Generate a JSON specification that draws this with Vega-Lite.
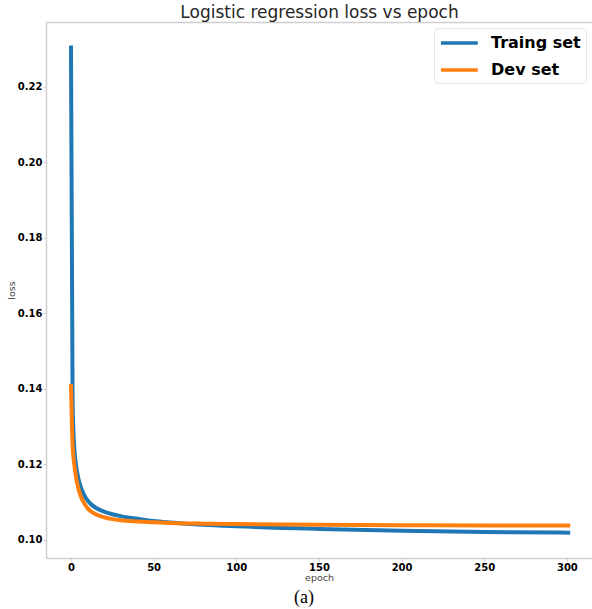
{
  "$schema": "https://vega.github.io/schema/vega-lite/v6.json",
  "autosize": {"type": "none"},
  "padding": {"left": 46, "top": 22, "right": 0, "bottom": 51},
  "width": 546,
  "height": 536,
  "background": "white",
  "title": {
    "text": "(a)",
    "orient": "bottom",
    "anchor": "middle",
    "font": "Liberation Serif",
    "fontSize": 18,
    "fontWeight": "normal",
    "color": "#000000",
    "offset": 7,
    "dx": -15
  },
  "config": {
    "view": {"stroke": null},
    "axis": {
      "grid": false,
      "domainColor": "#cfcfcf",
      "domainWidth": 1.5,
      "tickColor": "#cfcfcf",
      "tickSize": 3,
      "labelFont": "DejaVu Sans",
      "labelFontSize": 10,
      "labelFontWeight": "bold",
      "labelColor": "#000000",
      "titleFont": "DejaVu Sans",
      "titleFontSize": 9.5,
      "titleFontWeight": "normal",
      "titleColor": "#444444"
    }
  },
  "data": {
    "values": [
      {"epoch": 0, "loss": 0.231, "set": "Traing set"},
      {"epoch": 1, "loss": 0.136, "set": "Traing set"},
      {"epoch": 2, "loss": 0.1245, "set": "Traing set"},
      {"epoch": 3, "loss": 0.12, "set": "Traing set"},
      {"epoch": 4, "loss": 0.1172, "set": "Traing set"},
      {"epoch": 5, "loss": 0.1153, "set": "Traing set"},
      {"epoch": 6, "loss": 0.1139, "set": "Traing set"},
      {"epoch": 7, "loss": 0.1128, "set": "Traing set"},
      {"epoch": 8, "loss": 0.1119, "set": "Traing set"},
      {"epoch": 9, "loss": 0.1111, "set": "Traing set"},
      {"epoch": 10, "loss": 0.1105, "set": "Traing set"},
      {"epoch": 12, "loss": 0.1095, "set": "Traing set"},
      {"epoch": 15, "loss": 0.1085, "set": "Traing set"},
      {"epoch": 20, "loss": 0.1075, "set": "Traing set"},
      {"epoch": 25, "loss": 0.1068, "set": "Traing set"},
      {"epoch": 30, "loss": 0.1063, "set": "Traing set"},
      {"epoch": 40, "loss": 0.1056, "set": "Traing set"},
      {"epoch": 50, "loss": 0.105, "set": "Traing set"},
      {"epoch": 60, "loss": 0.1046, "set": "Traing set"},
      {"epoch": 80, "loss": 0.104, "set": "Traing set"},
      {"epoch": 100, "loss": 0.1036, "set": "Traing set"},
      {"epoch": 150, "loss": 0.1029, "set": "Traing set"},
      {"epoch": 200, "loss": 0.1024, "set": "Traing set"},
      {"epoch": 250, "loss": 0.1021, "set": "Traing set"},
      {"epoch": 302, "loss": 0.1019, "set": "Traing set"},
      {"epoch": 0, "loss": 0.1413, "set": "Dev set"},
      {"epoch": 1, "loss": 0.125, "set": "Dev set"},
      {"epoch": 2, "loss": 0.12, "set": "Dev set"},
      {"epoch": 3, "loss": 0.1168, "set": "Dev set"},
      {"epoch": 4, "loss": 0.1145, "set": "Dev set"},
      {"epoch": 5, "loss": 0.1128, "set": "Dev set"},
      {"epoch": 6, "loss": 0.1115, "set": "Dev set"},
      {"epoch": 7, "loss": 0.1105, "set": "Dev set"},
      {"epoch": 8, "loss": 0.1097, "set": "Dev set"},
      {"epoch": 9, "loss": 0.109, "set": "Dev set"},
      {"epoch": 10, "loss": 0.1084, "set": "Dev set"},
      {"epoch": 12, "loss": 0.1076, "set": "Dev set"},
      {"epoch": 15, "loss": 0.1068, "set": "Dev set"},
      {"epoch": 20, "loss": 0.106, "set": "Dev set"},
      {"epoch": 25, "loss": 0.1055, "set": "Dev set"},
      {"epoch": 30, "loss": 0.1052, "set": "Dev set"},
      {"epoch": 40, "loss": 0.1049, "set": "Dev set"},
      {"epoch": 50, "loss": 0.1047, "set": "Dev set"},
      {"epoch": 60, "loss": 0.1045, "set": "Dev set"},
      {"epoch": 80, "loss": 0.1043, "set": "Dev set"},
      {"epoch": 100, "loss": 0.1042, "set": "Dev set"},
      {"epoch": 150, "loss": 0.104, "set": "Dev set"},
      {"epoch": 200, "loss": 0.1039, "set": "Dev set"},
      {"epoch": 250, "loss": 0.1038, "set": "Dev set"},
      {"epoch": 302, "loss": 0.1038, "set": "Dev set"}
    ]
  },
  "resolve": {"axis": {"x": "independent"}},
  "layer": [
    {
      "mark": {"type": "line", "strokeWidth": 4, "interpolate": "monotone", "clip": true},
      "encoding": {
        "x": {
          "field": "epoch",
          "type": "quantitative",
          "scale": {"domain": [-15.1, 315.2], "nice": false, "zero": false},
          "axis": {"orient": "bottom", "title": "epoch", "values": [0, 50, 100, 150, 200, 250, 300], "labelPadding": 1, "titlePadding": 0}
        },
        "y": {
          "field": "loss",
          "type": "quantitative",
          "scale": {"domain": [0.0952, 0.2372], "nice": false, "zero": false},
          "axis": {"title": "loss", "values": [0.1, 0.12, 0.14, 0.16, 0.18, 0.2, 0.22], "format": ".2f", "labelPadding": 1, "titlePadding": 1}
        },
        "color": {
          "field": "set",
          "type": "nominal",
          "sort": ["Traing set", "Dev set"],
          "scale": {"domain": ["Traing set", "Dev set"], "range": ["#1f77b4", "#ff7f0e"]},
          "legend": {
            "title": null,
            "orient": "top-right",
            "offset": 6,
            "symbolType": "M-1,0H3.6",
            "symbolSize": 256,
            "symbolStrokeWidth": 3.5,
            "labelFont": "DejaVu Sans",
            "labelFontSize": 16,
            "labelFontWeight": "bold",
            "labelColor": "#000000",
            "labelOffset": 32,
            "rowPadding": 9,
            "padding": 5,
            "strokeColor": "#e3e3e3",
            "fillColor": "white",
            "cornerRadius": 4
          }
        }
      }
    },
    {
      "mark": {"type": "rule", "strokeOpacity": 0},
      "encoding": {
        "x": {
          "field": "epoch",
          "type": "quantitative",
          "axis": {"orient": "top", "title": "Logistic regression loss vs epoch", "labels": false, "ticks": false, "titleFontSize": 17, "titleColor": "#262626", "titlePadding": 1}
        }
      }
    }
  ]
}
